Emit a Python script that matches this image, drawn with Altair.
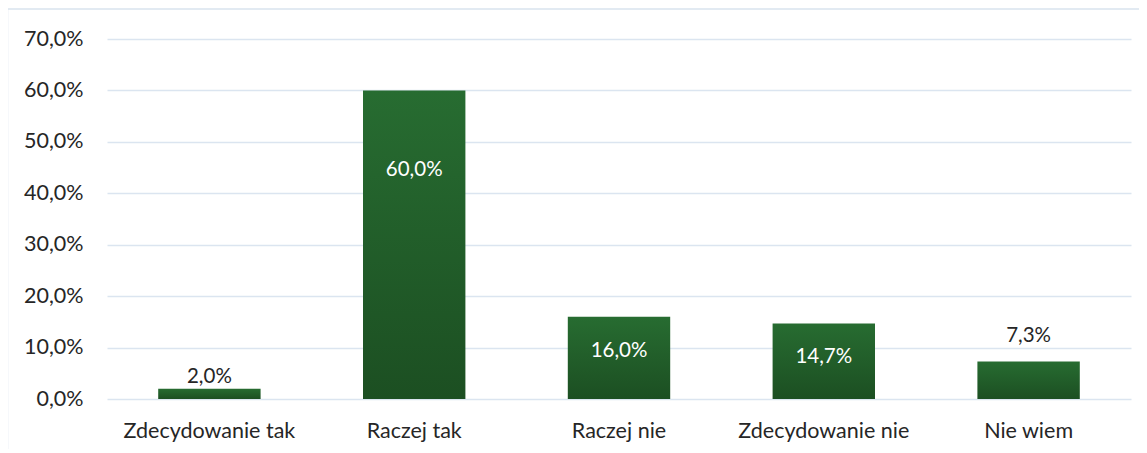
import altair as alt
import pandas as pd

categories = ["Zdecydowanie tak", "Raczej tak", "Raczej nie", "Zdecydowanie nie", "Nie wiem"]
values = [2.0, 60.0, 16.0, 14.7, 7.3]
labels = ["2,0%", "60,0%", "16,0%", "14,7%", "7,3%"]
y_ticks = [0, 10, 20, 30, 40, 50, 60, 70]

df = pd.DataFrame({"cat": categories, "v": values, "lab": labels})

FONT = "Lato"
W, H = 1024, 360

x_enc = alt.X("cat:N", sort=categories, title=None,
              scale=alt.Scale(paddingInner=0.5, paddingOuter=0.25),
              axis=alt.Axis(labelAngle=0, ticks=False, domain=False, labelFont=FONT,
                            labelFontSize=21.5, labelColor="#262626", labelPadding=38,
                            labelBaseline="alphabetic", grid=False))
y_enc = alt.Y("v:Q", title=None,
              scale=alt.Scale(domain=[0, 70], nice=False, zero=True),
              axis=alt.Axis(values=y_ticks, labelExpr="replace(format(datum.value, '.1f'), '.', ',') + '%'",
                            ticks=False, domain=False, labelFont=FONT, labelFontSize=21.5,
                            labelColor="#262626", labelPadding=24, gridColor="#dbe5f0",
                            gridWidth=1.5))

base = alt.Chart(df)

bars = base.mark_bar(
    color=alt.Gradient(gradient="linear", x1=0, x2=0, y1=0, y2=1,
                       stops=[alt.GradientStop(color="#276c31", offset=0),
                              alt.GradientStop(color="#1c4f22", offset=1)])
).encode(x=x_enc, y=y_enc)


def label_layer(cond, dy, color):
    return base.transform_filter(cond).mark_text(
        font=FONT, fontSize=20.5, baseline="middle", dy=dy, color=color
    ).encode(x=alt.X("cat:N", sort=categories), y=alt.Y("v:Q"), text="lab:N")


t_big = label_layer("datum.v > 50", 80, "#ffffff")
t_mid = label_layer("datum.v > 10 && datum.v <= 50", 34, "#ffffff")
t_7 = label_layer("datum.v > 5 && datum.v <= 10", -25, "#262626")
t_2 = label_layer("datum.v <= 5", -12, "#262626")

frame = alt.Chart(alt.Data(values=[{"a": 1}])).mark_rect(
    fill=None, stroke="#d9e3ee", strokeWidth=1.5
).encode(x=alt.value(-99.5), x2=alt.value(1100), y=alt.value(-30), y2=alt.value(480))

chart = alt.layer(frame, bars, t_big, t_mid, t_7, t_2).properties(
    width=W, height=H,
    autosize=alt.AutoSizeParams(type="none"),
    padding={"left": 99, "top": 31, "right": 8, "bottom": 50},
).configure(background="white", view=alt.ViewConfig(strokeWidth=0, stroke="transparent"))

chart.save("out.html", embed_options={"renderer": "svg", "actions": False})
